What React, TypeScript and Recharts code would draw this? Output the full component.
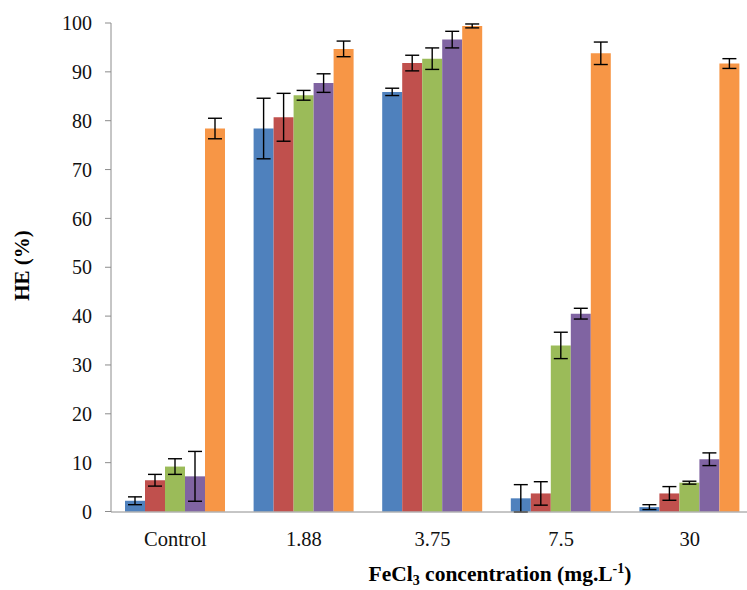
import React from 'react';
import { BarChart, Bar, XAxis, YAxis, ErrorBar } from 'recharts';

const categories = ['Control', '1.88', '3.75', '7.5', '30'];
const blueVals = [2.2, 78.4, 85.9, 2.7, 0.9];
const blueErr = [0.8, 6.2, 0.75, 2.8, 0.5];
const redVals = [6.4, 80.7, 91.8, 3.7, 3.7];
const redErr = [1.2, 4.9, 1.6, 2.4, 1.4];
const greenVals = [9.2, 85.2, 92.7, 34.0, 5.9];
const greenErr = [1.6, 1.0, 2.2, 2.7, 0.3];
const purpleVals = [7.2, 87.7, 96.6, 40.5, 10.7];
const purpleErr = [5.1, 1.9, 1.7, 1.1, 1.3];
const orangeVals = [78.4, 94.7, 99.4, 93.8, 91.7];
const orangeErr = [2.1, 1.6, 0.4, 2.3, 1.0];
const yTicks = [0, 10, 20, 30, 40, 50, 60, 70, 80, 90, 100];
const edgeTicks = [0, 1, 2, 3, 4, 5];

const colors = ['#4F81BD', '#C0504D', '#9BBB59', '#8064A2', '#F79646'];

const data = categories.map((c, i) => ({
  name: c,
  idx: i + 0.5,
  s1: blueVals[i], e1: blueErr[i],
  s2: redVals[i], e2: redErr[i],
  s3: greenVals[i], e3: greenErr[i],
  s4: purpleVals[i], e4: purpleErr[i],
  s5: orangeVals[i], e5: orangeErr[i],
}));

const FONT = '"Liberation Serif", "Times New Roman", serif';
const axisGray = '#8c8c8c';

const YLabel = (props: any) => {
  const vb = props.viewBox || { x: 0, y: 23, width: 111, height: 489 };
  const x = vb.x + 22;
  const y = vb.y + vb.height / 2 - 2;
  return (
    <text x={x} y={y} transform={`rotate(-90 ${x} ${y})`} textAnchor="middle" dominantBaseline="central"
      fontFamily={FONT} fontSize={21} fontWeight="bold" fill="#000">HE (%)</text>
  );
};

const XLabel = (props: any) => {
  const vb = props.viewBox || { x: 111, y: 520, width: 643, height: 70 };
  const x = vb.x + 389;
  const y = vb.y + 61;
  return (
    <text x={x} y={y} textAnchor="middle" fontFamily={FONT} fontSize={21.5} fontWeight="bold" fill="#000">
      <tspan>FeCl</tspan>
      <tspan dy={4} fontSize={14}>3</tspan>
      <tspan dy={-4}> concentration (mg.L</tspan>
      <tspan dy={-8} fontSize={14}>-1</tspan>
      <tspan dy={8}>)</tspan>
    </text>
  );
};

const series = [
  { key: 's1', err: 'e1' },
  { key: 's2', err: 'e2' },
  { key: 's3', err: 'e3' },
  { key: 's4', err: 'e4' },
  { key: 's5', err: 'e5' },
];

export default function App() {
  return (
    <div style={{ position: 'fixed', left: 0, top: 0, width: 747, height: 590, overflow: 'hidden', background: '#fff' }}>
      <BarChart width={780} height={590} data={data} barGap={0} barSize={20}
        margin={{ top: 23, right: 26, left: 0, bottom: 0 }}>
        <XAxis xAxisId="a_edge" type="number" dataKey="idx" domain={[0, 5]} ticks={edgeTicks}
          height={8} tick={false} tickSize={7} stroke={axisGray} axisLine={{ stroke: axisGray }}
          tickLine={{ stroke: axisGray }} allowDataOverflow />
        <XAxis xAxisId="b_cat" dataKey="name" height={70} axisLine={false} tickLine={false} tickSize={0}
          tickMargin={11} tick={{ fontFamily: FONT, fontSize: 20.5, fill: '#111' }} interval={0}
          label={<XLabel />} />
        <YAxis domain={[0, 100]} ticks={yTicks} width={111} tickSize={6} tickMargin={13}
          axisLine={{ stroke: axisGray }} tickLine={{ stroke: axisGray }}
          tick={{ fontFamily: FONT, fontSize: 20, fill: '#111' }} interval={0}
          label={<YLabel />} />
        {series.map((s, i) => (
          <Bar key={s.key} xAxisId="b_cat" dataKey={s.key} fill={colors[i]} isAnimationActive={false}>
            <ErrorBar dataKey={s.err} width={7} stroke="#000" strokeWidth={1.4} />
          </Bar>
        ))}
      </BarChart>
    </div>
  );
}
